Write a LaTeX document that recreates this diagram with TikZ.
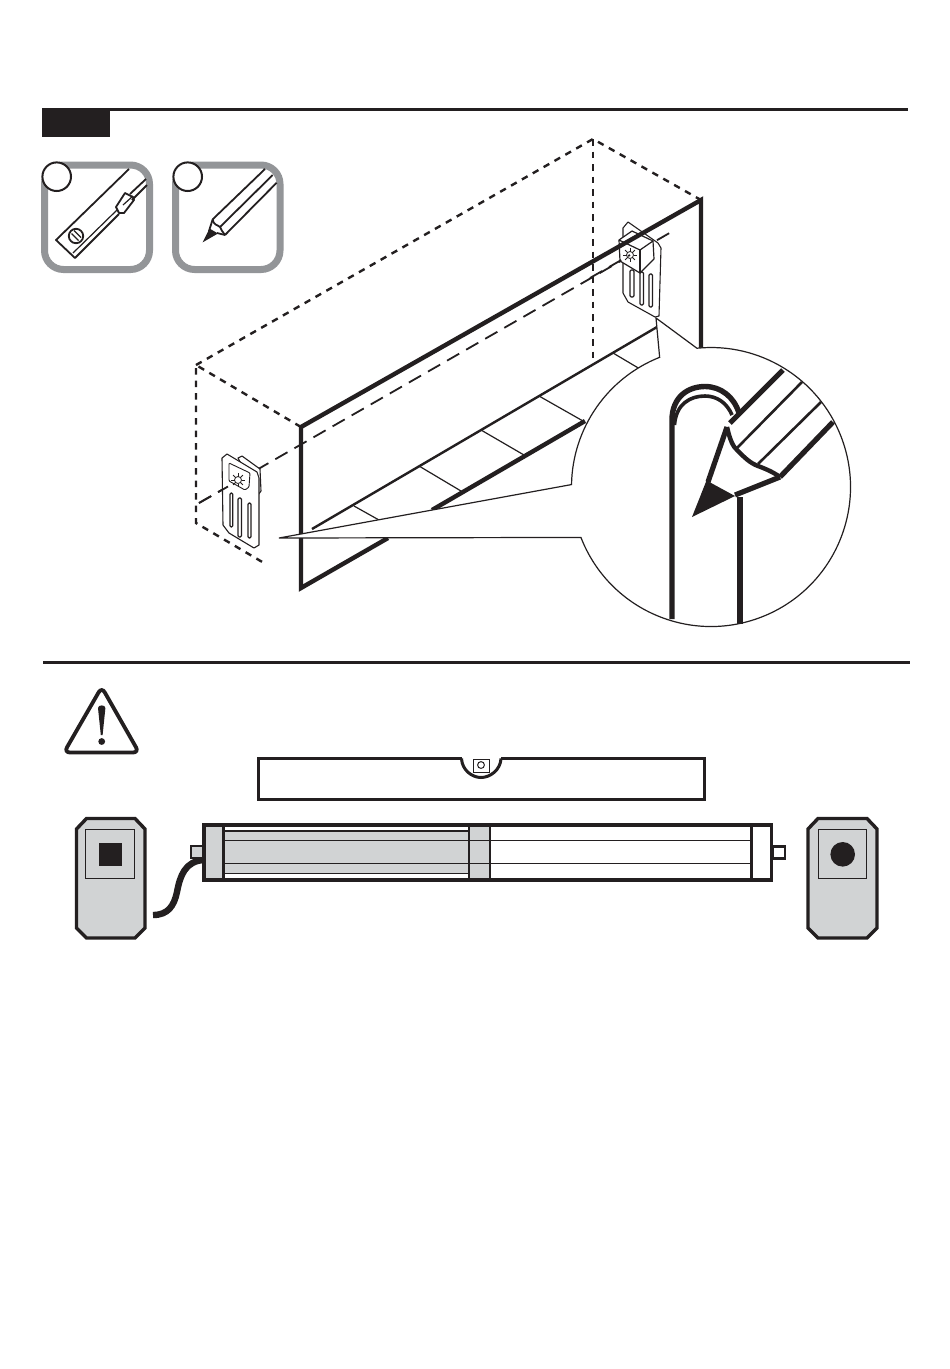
\documentclass[tikz,border=0pt]{standalone}
\usetikzlibrary{calc}
\definecolor{ink}{HTML}{231F20}
\definecolor{iconframe}{HTML}{939598}
\definecolor{fillgray}{HTML}{D1D3D4}
\tikzset{
  hair/.style={draw=ink,line width=1.2pt},
  fine/.style={draw=ink,line width=1.8pt},
  heavy/.style={draw=ink,line width=4.4pt,line join=miter},
  boxdash/.style={draw=ink,line width=2.4pt,dash pattern=on 6.5pt off 6pt},
  axisdash/.style={draw=ink,line width=1.8pt,dash pattern=on 14pt off 8pt},
  iconbox/.style={draw=iconframe,line width=7pt,rounded corners=19pt,fill=white},
  badge/.style={draw=ink,line width=2pt,fill=white},
  plate/.style={draw=ink,line width=1.1pt,fill=white,line join=round},
  slot/.style={draw=ink,line width=1.2pt,fill=white,rounded corners=1.2pt},
  pencilthick/.style={draw=ink,line width=5.2pt,line join=round},
  pencilthin/.style={draw=ink,line width=2.6pt},
  housing/.style={draw=ink,line width=3.4pt,fill=fillgray,line join=miter},
}
\begin{document}
\begin{tikzpicture}[x=1pt,y=-1pt]
\useasboundingbox (0,0) rectangle (950,1369);
\fill[white] (0,0) rectangle (950,1369);

% header
\draw[draw=ink,line width=3pt] (42,109.5) -- (908,109.5);
\fill[ink] (42,109) rectangle (110,137);

% tool icons
\draw[iconbox] (44.5,165) rectangle (149.5,269.5);
\draw[iconbox] (175.5,165) rectangle (280,269.5);

% icon 1: level
\draw[fine,line join=round] (129,169) -- (56,240) -- (75,258) -- (119,214);
\draw[hair] (73,253) -- (117,210);
\draw[fine] (76,236) circle[radius=7.2];
\draw[hair] (71.5,233.5) -- (78.5,240.5);
\draw[hair] (74,230.5) -- (81,237.5);
\draw[fine,line join=round] (116,207) -- (125,193) -- (133,197) -- (134,200) -- (124,213) -- (119,213) -- cycle;
\draw[hair] (123,205) -- (133,196);
\draw[fine] (132,200) -- (147,185);
\draw[fine] (130,194) -- (146,179);

% icon 2: pencil
\draw[fine] (212.7,219.3) -- (265,169);
\draw[fine] (225,235) -- (276.7,182.7);
\draw[fine] (220,227) -- (272.7,175);
\draw[fine,line join=round] (212.7,219.3) -- (209,231);
\draw[fine,line join=round] (225,235) -- (217,233);
\draw[fine] (212.7,219.3) .. controls (213,225) and (218,225) .. (220,227) .. controls (221,230) and (223,232) .. (225,235);
\fill[ink] (202.7,242.3) -- (209.5,228.5) -- (218,233.5) -- cycle;

\draw[badge] (56.7,176.7) circle[radius=14.3];
\draw[badge] (187.7,176.7) circle[radius=14.3];

% dashed cabinet
\draw[boxdash] (196,365) -- (593,139) -- (701,200);
\draw[boxdash] (301,427) -- (196,365) -- (196,523) -- (264,563);
\draw[boxdash] (593,139) -- (593,363);

% axis through the brackets
\draw[axisdash] (199,503) -- (673,231);

% left bracket
\draw[plate] (238,458) -- (242,456) -- (260,469) -- (261,491) -- (258,495) -- cycle;
\draw[plate] (222,458) -- (227,454) -- (257,472) -- (259,478) -- (259,545) -- (254,548) -- (229,533) -- (223,525) -- cycle;
\draw[draw=ink,line width=.9pt,rounded corners=1pt] (229,463) -- (250,473) -- (249,487) -- (245,490) -- (229,481) -- cycle;
\draw[slot] (230,493) rectangle (232.8,527);
\draw[slot] (238,498) rectangle (241.5,537);
\draw[slot] (248,503) rectangle (251,538);
\foreach \a in {0,45,...,315}{\draw[ink,line width=.8pt] (238,480) ++(\a:3.5) -- ++(\a:3.5);}
\draw[ink,line width=.8pt] (238,480) circle[radius=3.5];
\draw[axisdash] (199,503) -- (228,486.5);

% right bracket
\draw[plate] (623,228) -- (628,222) -- (658,243) -- (661,248) -- (659,316) -- (655,317) -- (628,302) -- (623,293) -- cycle;
\draw[slot] (630,270) rectangle (634,297);
\draw[slot] (640,272) rectangle (643.5,305);
\draw[slot] (649,274) rectangle (652.5,307);
\draw[plate,line width=1.2pt] (619,240) -- (632,231) -- (653,241) -- (654,259) -- (640,273) -- (620,261) -- cycle;
\draw[plate,line width=1.2pt] (619,240) -- (640,250) -- (653,241);
\draw[draw=ink,line width=1.2pt] (640,250) -- (640,273);
\foreach \a in {0,45,...,315}{\draw[ink,line width=.8pt] (630,255) ++(\a:3.5) -- ++(\a:3.5);}
\draw[ink,line width=.8pt] (630,255) circle[radius=3.5];
\draw[axisdash] (590,278) -- (630,255);

% panel
\draw[heavy] (388,538) -- (301,588) -- (301,427) -- (701,200) -- (701,350);
\draw[draw=ink,line width=2.4pt] (312,529) -- (657,327);
\draw[heavy] (432,510) -- (585,421);
\draw[hair] (354,506) -- (379,520);
\draw[hair] (419,466) -- (461,491);
\draw[hair] (481,430) -- (524,455);
\draw[hair] (539,396) -- (583,421);
\draw[hair] (613,353) -- (640,369);

% callout
\draw[fill=white,draw=ink,line width=1.2pt,line join=miter]
  (279,538) -- ([shift={(711,487)}]158.8:139.5) arc[start angle=158.8,end angle=-95.8,radius=139.5]
  -- (656,318) -- ([shift={(711,487)}]248.4:139.5) arc[start angle=248.4,end angle=181,radius=139.5] -- cycle;

% detail in the callout
\draw[draw=ink,line width=5.4pt] (672,619) -- (672,420) .. controls (672,397) and (688,386.5) .. (705,386.5) .. controls (721,386.5) and (734,397) .. (739,413);
\draw[draw=ink,line width=3.6pt] (674.5,425) .. controls (676,404) and (690,396) .. (705,396) .. controls (717,396) and (727,403) .. (732,415);
\draw[draw=ink,line width=5.4pt] (740,497) -- (740,624);

\fill[white] (726,425) -- (783,370) -- (833,422) -- (780,477) -- (735,497) -- (692,517) -- cycle;
\draw[pencilthick] (730,423) -- (783,370);
\draw[pencilthick] (780,477) -- (833,422);
\draw[pencilthin] (737,448) -- (802,382);
\draw[pencilthin] (758,464) -- (821,402);
\draw[pencilthick,line width=4.4pt] (727,427) .. controls (730,440) and (733,447) .. (738,451) .. controls (745,458) and (750,463) .. (758,466) .. controls (766,469) and (773,472) .. (780,477);
\draw[pencilthick] (708,482) -- (727,427);
\draw[pencilthick] (735,495) -- (780,477);
\fill[ink] (692,517) -- (706.5,480.5) -- (735,496) -- cycle;

% separator
\draw[draw=ink,line width=2.8pt] (43,662.5) -- (910,662.5);

% warning sign
\draw[draw=ink,line width=3.8pt,rounded corners=6pt] (101.7,687) -- (64,752.5) -- (139,752.5) -- cycle;
\fill[ink] (98,708) .. controls (98,704.5) and (105.4,704.5) .. (105.4,708) -- (102.6,735) -- (100.8,735) -- cycle;
\fill[ink] (101.7,741.5) circle[radius=3.4];

% spirit level
\draw[draw=ink,line width=3pt,line join=miter] (461.5,758.5) -- (258.8,758.5) -- (258.8,799.5) -- (704,799.5) -- (704,758.5) -- (501,758.5);
\draw[draw=ink,line width=3pt] (461.5,758.5) .. controls (462,770) and (472,777.5) .. (481,777.5) .. controls (490,777.5) and (500.5,770) .. (501,758.5);
\draw[draw=ink,line width=1pt] (473.5,759) -- (473.5,772) -- (489.5,772) -- (489.5,759) -- cycle;
\draw[draw=ink,line width=1pt] (481,765) circle[radius=3.4];

% motor tube
\fill[fillgray] (224,831) rectangle (469,873);
\fill[fillgray] (204,826) rectangle (224,879);
\fill[fillgray] (469,826) rectangle (490,879);
\draw[draw=ink,line width=1.3pt] (224,831) -- (469,831);
\draw[draw=ink,line width=1.3pt] (224,873.5) -- (469,873.5);
\draw[hair] (224,840.7) -- (752,840.7);
\draw[hair] (224,863.3) -- (752,863.3);
\draw[draw=ink,line width=2.2pt] (469,826) -- (469,879);
\draw[draw=ink,line width=1.5pt] (490,826) -- (490,879);
\draw[draw=ink,line width=3pt] (223.5,826) -- (223.5,879);
\draw[draw=ink,line width=3pt] (751.7,826) -- (751.7,879);
\draw[draw=ink,line width=3.4pt] (204,825) rectangle (771.5,880);
\draw[draw=ink,line width=2.4pt,fill=fillgray] (191,846) rectangle (203,857.7);
\draw[draw=ink,line width=2.4pt,fill=white] (773,846.5) rectangle (785,858.5);

% cable
\draw[draw=ink,line width=6.4pt] (153,915) .. controls (168,915) and (174,906) .. (177,892) .. controls (180,876) and (185,861) .. (204,860);

% left control
\draw[housing] (86.5,818.5) -- (135,818.5) -- (145,829) -- (145,928) -- (135,938) -- (86.5,938) -- (76.5,928) -- (76.5,829) -- cycle;
\draw[draw=ink,line width=1pt] (85.5,829.5) rectangle (134.5,878.5);
\fill[ink] (99,843) rectangle (122,865.7);

% right control
\draw[housing] (818,818.5) -- (867,818.5) -- (877,829) -- (877,928) -- (867,938) -- (818,938) -- (808,928) -- (808,829) -- cycle;
\draw[draw=ink,line width=1pt] (818.3,829.5) rectangle (866.7,878.5);
\fill[ink] (842.7,854.3) circle[radius=12.3];
\end{tikzpicture}
\end{document}
